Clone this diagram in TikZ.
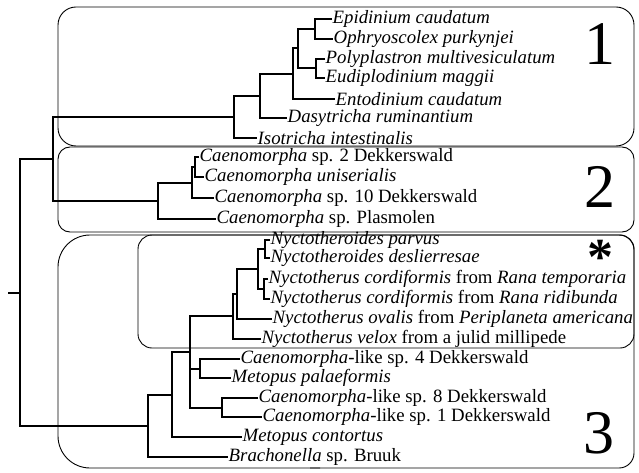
\documentclass[tikz,border=0pt]{standalone}
\usepackage{fontspec}
\setmainfont{Liberation Serif}
\usetikzlibrary{positioning}

\begin{document}
\begin{tikzpicture}[x=1pt, y=-1pt,
    leaf/.style={anchor=west, inner sep=0.5pt, font=\fontsize{18.8}{20}\selectfont},
    branch/.style={line width=1.3pt},
    clade/.style={line width=0.9pt},
    cladeno/.style={anchor=base, inner sep=0pt, font=\fontsize{62}{62}\selectfont}]
    \useasboundingbox (0,0) rectangle (639,473);

    \draw[clade, rounded corners=18pt] (58,7) rectangle (634,146);
    \draw[clade, rounded corners=12pt] (58,147) rectangle (634,232);
    \draw[clade, rounded corners=32pt] (320,235) -- (58,235) -- (58,468) -- (320,468);
    \draw[clade, rounded corners=15pt] (310,468) -- (634,468) -- (634,235) -- (310,235);
    \draw[clade, rounded corners=14pt] (138,235) rectangle (634,348);

    \node[cladeno] (one) at (600,65) {1};
    \node[cladeno] (two) at (600,207) {2};
    \node[cladeno] (three) at (599,453) {3};
    \node[cladeno, font=\fontsize{52}{52}\selectfont\bfseries] (star) at (600,274) {\smash{*}};

    \foreach \n/\x/\y/\t in {epi/332/19/{Epidinium caudatum}, oph/333/39/{Ophryoscolex purkynjei},
        poly/325/59/{Polyplastron multivesiculatum}, eudi/325/78/{Eudiplodinium maggii},
        ento/335/99/{Entodinium caudatum}, dasy/287/118/{Dasytricha ruminantium},
        iso/257/138/{Isotricha intestinalis}}
    \node[leaf] (\n) at (\x,\y) {\textit{\t}};

    \foreach \n/\x/\y/\t in {csa/199/157/{\textit{Caenomorpha} sp. 2 Dekkerswald},
        cuni/204/177/{\textit{Caenomorpha uniserialis}},
        csb/214/198/{\textit{Caenomorpha} sp. 10 Dekkerswald},
        cpl/216/219/{\textit{Caenomorpha} sp. Plasmolen},
        npar/270/240/{\textit{Nyctotheroides parvus}},
        ndes/270/258/{\textit{Nyctotheroides deslierresae}},
        ntem/268/279/{\textit{Nyctotherus cordiformis} from \textit{Rana temporaria}},
        nrid/270/299/{\textit{Nyctotherus cordiformis} from \textit{Rana ridibunda}},
        noval/272/319/{\textit{Nyctotherus ovalis} from \textit{Periplaneta americana}},
        nvel/261/339/{\textit{Nyctotherus velox} from a julid millipede},
        cl4/240/359/{\textit{Caenomorpha}-like sp. 4 Dekkerswald},
        mpal/231/378/{\textit{Metopus palaeformis}},
        cl8/258/398/{\textit{Caenomorpha}-like sp. 8 Dekkerswald},
        cl1/262/417/{\textit{Caenomorpha}-like sp. 1 Dekkerswald},
        mcon/242/437/{\textit{Metopus contortus}},
        bru/228/457/{\textit{Brachonella} sp. Bruuk}}
    \node[leaf] (\n) at (\x,\y) {\t};

    \coordinate (eo) at (315,29);
    \coordinate (pe) at (316,68);
    \coordinate (eope) at (298,48);
    \coordinate (ent) at (293,74);
    \coordinate (das) at (260,96);
    \coordinate (isn) at (234,117);
    \coordinate (ca) at (195,167);
    \coordinate (cb) at (192,183);
    \coordinate (cc) at (158,201);
    \coordinate (g12) at (53,159);
    \coordinate (pd) at (265,249);
    \coordinate (cf) at (264,289);
    \coordinate (pdc) at (258,269);
    \coordinate (ov) at (237,294);
    \coordinate (ve) at (233,316);
    \coordinate (cm) at (200,369);
    \coordinate (sp) at (222,408);
    \coordinate (pt) at (190,352);
    \coordinate (mc) at (172,395);
    \coordinate (br) at (148,426);
    \coordinate (root) at (20,293);
    \coordinate (base) at (8,293);

    \draw[branch] (epi.west) -| (eo) |- (oph.west);
    \draw[branch] (poly.west) -| (pe) |- (eudi.west);
    \draw[branch] (eo) -| (eope) |- (pe);
    \draw[branch] (eope) -| (ent) |- (ento.west);
    \draw[branch] (ent) -| (das) |- (dasy.west);
    \draw[branch] (das) -| (isn) |- (iso.west);
    \draw[branch] (csa.west) -| (ca) |- (cuni.west);
    \draw[branch] (ca) -| (cb) |- (csb.west);
    \draw[branch] (cb) -| (cc) |- (cpl.west);
    \draw[branch] (isn) -| (g12) |- (cc);
    \draw[branch] (npar.west) -| (pd) |- (ndes.west);
    \draw[branch] (ntem.west) -| (cf) |- (nrid.west);
    \draw[branch] (pd) -| (pdc) |- (cf);
    \draw[branch] (pdc) -| (ov) |- (noval.west);
    \draw[branch] (ov) -| (ve) |- (nvel.west);
    \draw[branch] (cl4.west) -| (cm) |- (mpal.west);
    \draw[branch] (cl8.west) -| (sp) |- (cl1.west);
    \draw[branch] (ve) -| (pt) |- (sp);
    \draw[branch] (cm) -- (cm -| pt);
    \draw[branch] (pt) -| (mc) |- (mcon.west);
    \draw[branch] (mc) -| (br) |- (bru.west);
    \draw[branch] (g12) -| (root) |- (br);
    \draw[branch] (base) -- (root);
\end{tikzpicture}
\end{document}
